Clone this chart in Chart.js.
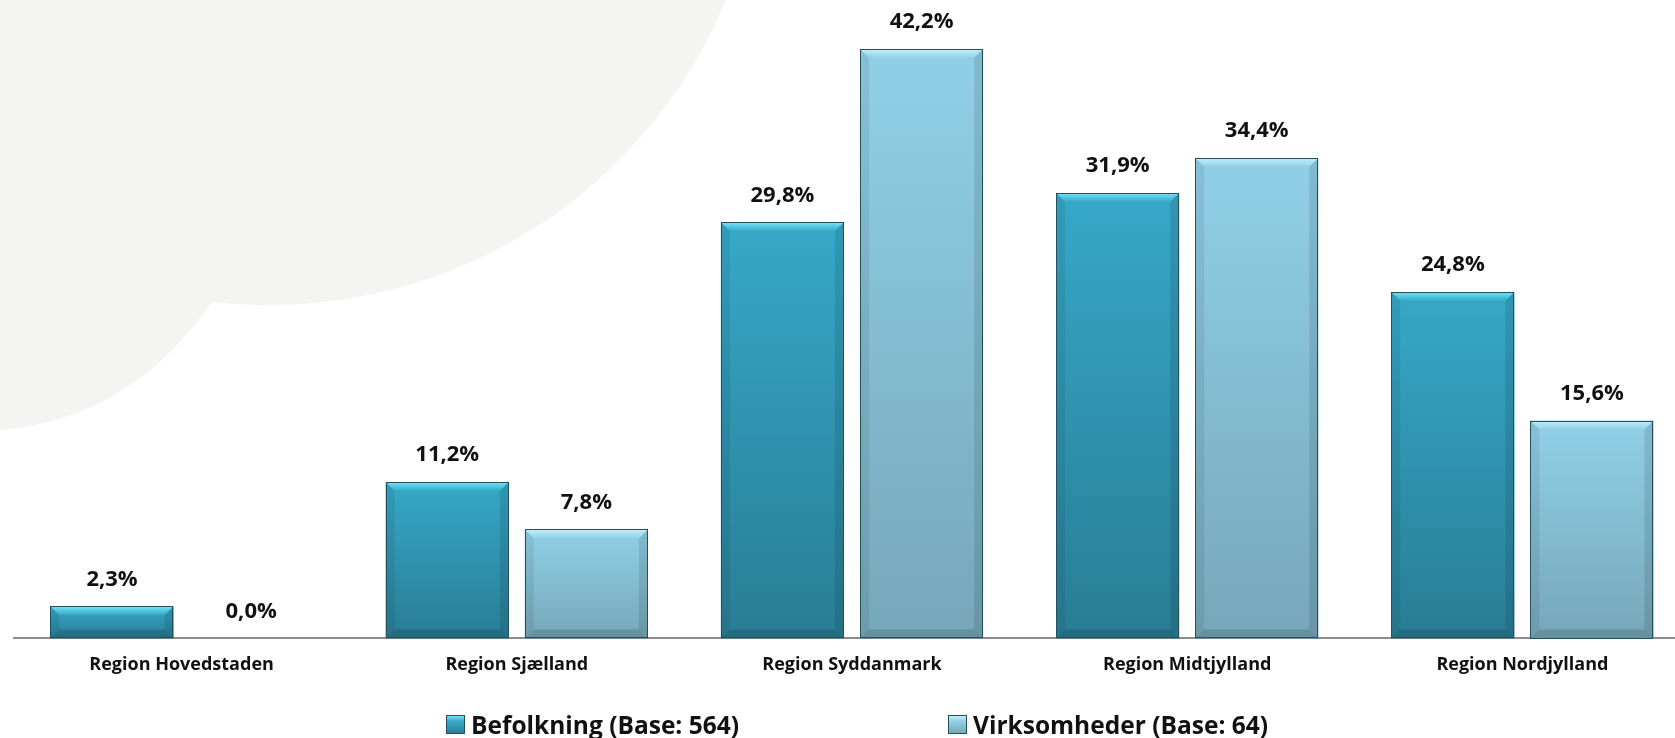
<!DOCTYPE html>
<html><head><meta charset="utf-8">
<script src="https://cdn.jsdelivr.net/npm/chart.js@4.4.0/dist/chart.umd.min.js"></script>
<style>
html,body{margin:0;padding:0;background:#fff;overflow:hidden;width:1675px;height:738px;}
#wrap{position:relative;width:1690px;height:738px;}
#bg{position:absolute;left:0;top:0;}
#c{position:absolute;left:0;top:0;}
#legend{position:absolute;top:706px;left:0;width:1675px;height:36px;font-family:'Open Sans',sans-serif;font-weight:bold;font-size:24.5px;color:#111;}
.item{position:absolute;top:0;display:flex;align-items:center;height:36px;white-space:nowrap}
.sw{width:19px;height:19px;margin-right:6px;box-sizing:border-box;border:1px solid #24505d;}
.sw1{background:linear-gradient(#6fe3f8 0,#37aacb 30%,#2a7f98 100%);}
.sw2{background:linear-gradient(#c5eef8 0,#92d1e8 30%,#77a8ba 100%);}
</style></head>
<body>
<div id="wrap">
<svg id="bg" width="1690" height="738"><path d="M0 0 L726 0 A495 495 0 0 1 212 302 Q130 420 0 430 Z" fill="#f4f4f2"/></svg>
<canvas id="c" width="1690" height="738"></canvas>
<div id="legend">
  <div class="item" style="left:446px"><span class="sw sw1"></span><span id="l1"></span></div>
  <div class="item" style="left:948px"><span class="sw sw2"></span><span id="l2"></span></div>
</div>
</div>
<script>
const categories = ['Region Hovedstaden','Region Sjælland','Region Syddanmark','Region Midtjylland','Region Nordjylland'];
const seriesNames = ['Befolkning (Base: 564)','Virksomheder (Base: 64)'];
const befolkning = [2.3, 11.2, 29.8, 31.9, 24.8];
const virksomheder = [0.0, 7.8, 42.2, 34.4, 15.6];

document.getElementById('l1').textContent = seriesNames[0];
document.getElementById('l2').textContent = seriesNames[1];

const styles = [
  {top:'#36a8c8', bottom:'#297d95', bevel:'#72e4f9'},
  {top:'#90d0e7', bottom:'#76a7b9', bevel:'#c5eef8'}
];

function barGradient(idx){
  return (context)=>{
    const chart = context.chart;
    const {ctx, chartArea, scales} = chart;
    if (!chartArea || !context.parsed) return styles[idx].top;
    const yTop = scales.y.getPixelForValue(context.parsed.y);
    const yBot = scales.y.getPixelForValue(0);
    if (yBot - yTop < 1) return styles[idx].top;
    const g = ctx.createLinearGradient(0, yTop, 0, yBot);
    g.addColorStop(0, styles[idx].top);
    g.addColorStop(1, styles[idx].bottom);
    return g;
  };
}

function fmt(v){ return v.toFixed(1).replace('.', ',') + '%'; }

const bevelPlugin = {
  id:'bevel',
  afterDatasetsDraw(chart){
    const ctx = chart.ctx;
    ctx.save();
    chart.data.datasets.forEach((ds,i)=>{
      const meta = chart.getDatasetMeta(i);
      meta.data.forEach((bar)=>{
        const l = bar.x - bar.width/2, r = bar.x + bar.width/2, t = bar.y, b = bar.base;
        const h = b - t;
        if (h < 1) return;
        const bv = Math.min(9, h/2);
        const gt = ctx.createLinearGradient(0, t, 0, t+bv);
        gt.addColorStop(0, styles[i].bevel);
        gt.addColorStop(1, styles[i].top);
        ctx.fillStyle = gt;
        ctx.beginPath(); ctx.moveTo(l,t); ctx.lineTo(r,t); ctx.lineTo(r-bv,t+bv); ctx.lineTo(l+bv,t+bv); ctx.closePath(); ctx.fill();
        ctx.fillStyle = 'rgba(0,0,0,0.07)';
        ctx.beginPath(); ctx.moveTo(l,t); ctx.lineTo(l+bv,t+bv); ctx.lineTo(l+bv,b-bv); ctx.lineTo(l,b); ctx.closePath(); ctx.fill();
        ctx.fillStyle = 'rgba(0,0,0,0.10)';
        ctx.beginPath(); ctx.moveTo(r,t); ctx.lineTo(r-bv,t+bv); ctx.lineTo(r-bv,b-bv); ctx.lineTo(r,b); ctx.closePath(); ctx.fill();
        ctx.fillStyle = 'rgba(0,0,0,0.14)';
        ctx.beginPath(); ctx.moveTo(l,b); ctx.lineTo(l+bv,b-bv); ctx.lineTo(r-bv,b-bv); ctx.lineTo(r,b); ctx.closePath(); ctx.fill();
        ctx.strokeStyle = '#24505d';
        ctx.lineWidth = 1;
        ctx.strokeRect(Math.round(l)+0.5, Math.round(t)+0.5, Math.round(r-l)-1, Math.round(b-t)-1);
      });
    });
    ctx.restore();
  }
};

const labelPlugin = {
  id:'valueLabels',
  afterDatasetsDraw(chart){
    const ctx = chart.ctx;
    ctx.save();
    ctx.font = 'bold 22px "Open Sans"';
    ctx.fillStyle = '#111';
    ctx.textAlign = 'center';
    ctx.textBaseline = 'middle';
    chart.data.datasets.forEach((ds,i)=>{
      const meta = chart.getDatasetMeta(i);
      meta.data.forEach((bar,j)=>{
        ctx.fillText(fmt(ds.data[j]), bar.x, bar.y - 27);
      });
    });
    ctx.restore();
  }
};

new Chart(document.getElementById('c'), {
  type:'bar',
  data:{
    labels: categories,
    datasets:[
      {label: seriesNames[0], data: befolkning, backgroundColor: barGradient(0), borderWidth:0, categoryPercentage:0.83, barPercentage:0.885},
      {label: seriesNames[1], data: virksomheder, backgroundColor: barGradient(1), borderWidth:0, categoryPercentage:0.83, barPercentage:0.885}
    ]
  },
  options:{
    responsive:false,
    animation:false,
    layout:{padding:{left:14, right:0, top:10, bottom:46}},
    plugins:{legend:{display:false}, tooltip:{enabled:false}},
    scales:{
      x:{
        grid:{display:false, drawTicks:false},
        border:{display:true, color:'#8c8c8c', width:2},
        ticks:{color:'#111', font:{family:'Open Sans', weight:'bold', size:18}, padding:16, maxRotation:0}
      },
      y:{display:false, min:0, max:45}
    }
  },
  plugins:[bevelPlugin, labelPlugin]
});
</script>
</body></html>
